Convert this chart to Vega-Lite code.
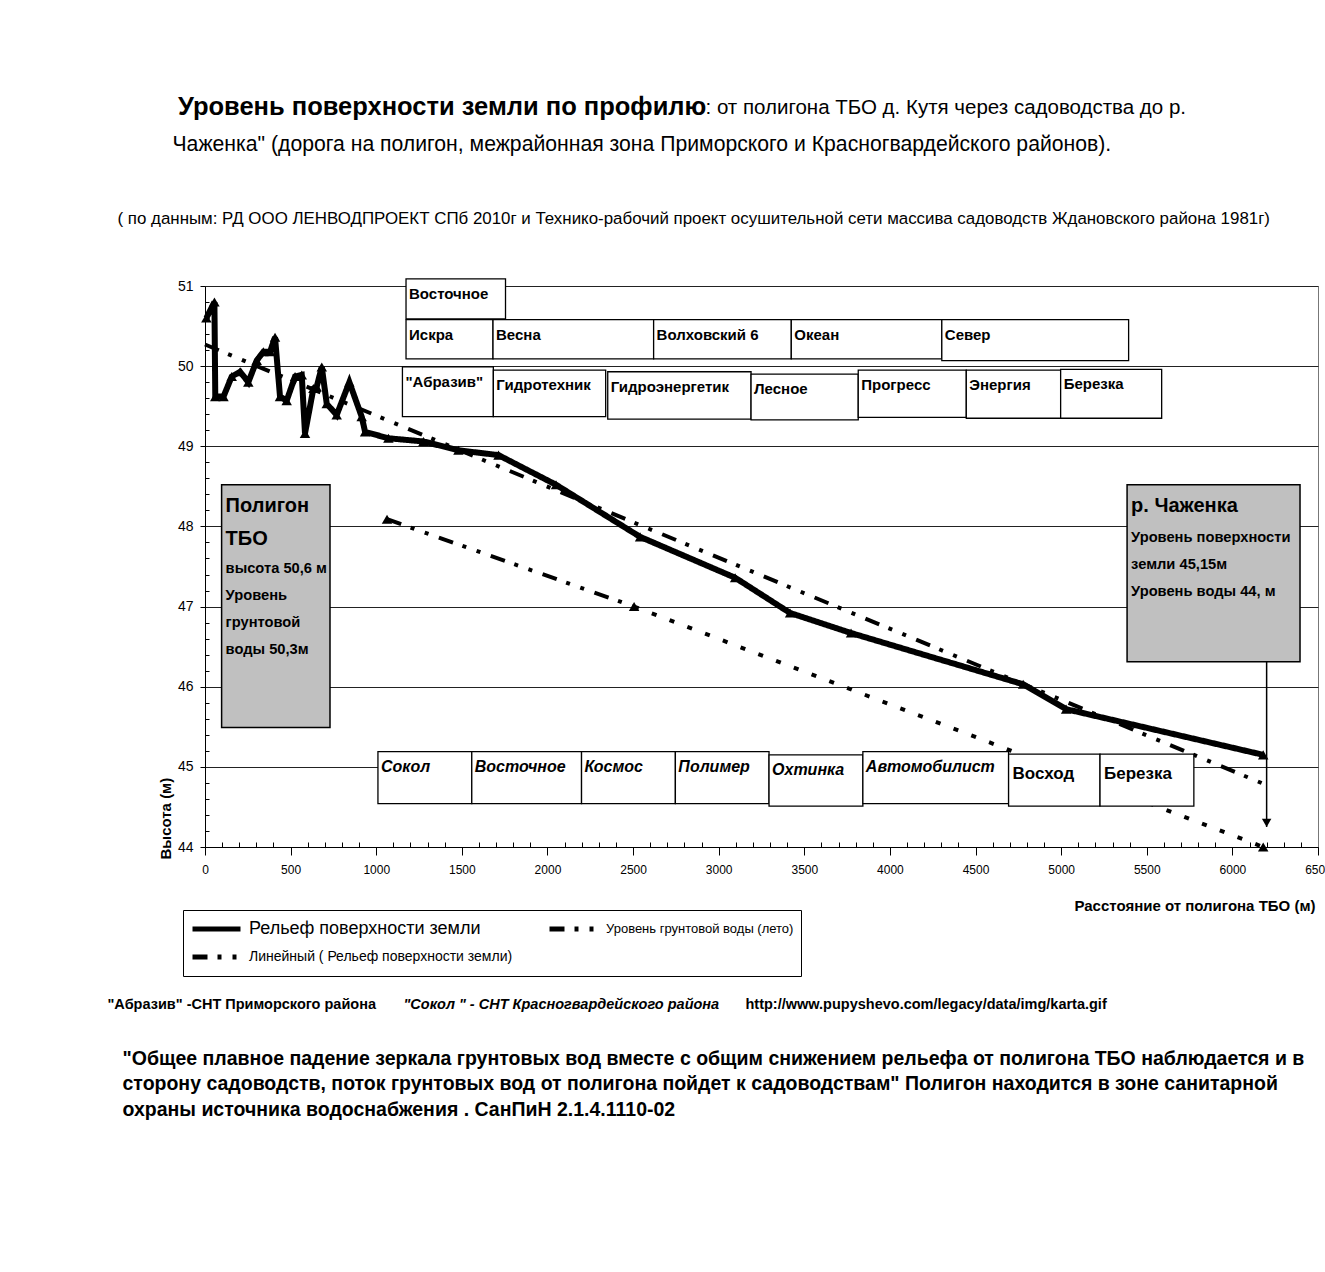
{
  "$schema": "https://vega.github.io/schema/vega-lite/v6.json",
  "width": 1113,
  "height": 561,
  "autosize": {"type": "none"},
  "padding": {"left": 205, "top": 286, "right": 7, "bottom": 425},
  "background": "white",
  "title": {
    "text": "Уровень  поверхности земли  по профилю",
    "anchor": "start",
    "frame": "group",
    "dx": -27,
    "dy": 23,
    "offset": 0,
    "fontSize": 25.5,
    "fontWeight": "bold",
    "color": "black"
  },
  "datasets": {
    "relief": [
      {"x": 8, "y": 50.6}, {"x": 55, "y": 50.8}, {"x": 60, "y": 49.62}, {"x": 108, "y": 49.62},
      {"x": 156, "y": 49.87}, {"x": 205, "y": 49.93}, {"x": 253, "y": 49.8}, {"x": 302, "y": 50.07},
      {"x": 341, "y": 50.18}, {"x": 380, "y": 50.18}, {"x": 409, "y": 50.36}, {"x": 438, "y": 49.62},
      {"x": 477, "y": 49.57}, {"x": 526, "y": 49.87}, {"x": 565, "y": 49.89}, {"x": 584, "y": 49.16},
      {"x": 633, "y": 49.72}, {"x": 652, "y": 49.74}, {"x": 682, "y": 49.99}, {"x": 711, "y": 49.53},
      {"x": 769, "y": 49.39}, {"x": 843, "y": 49.8}, {"x": 915, "y": 49.37}, {"x": 935, "y": 49.18},
      {"x": 1071, "y": 49.1}, {"x": 1276, "y": 49.06}, {"x": 1480, "y": 48.95}, {"x": 1714, "y": 48.89},
      {"x": 2050, "y": 48.52}, {"x": 2541, "y": 47.87}, {"x": 3096, "y": 47.36}, {"x": 3417, "y": 46.92},
      {"x": 3773, "y": 46.67}, {"x": 4778, "y": 46.03}, {"x": 5029, "y": 45.72}, {"x": 6180, "y": 45.15}
    ],
    "trend": [{"x": 0, "y": 50.27}, {"x": 6180, "y": 44.79}],
    "gw": [{"x": 1063, "y": 48.09}, {"x": 2506, "y": 47.0}, {"x": 6180, "y": 44.0}],
    "boxes": [
      {"n": "Восточное", "x1": 1174, "x2": 1755, "y1": 50.59, "y2": 51.09, "g": "top"},
      {"n": "Искра", "x1": 1174, "x2": 1682, "y1": 50.09, "y2": 50.58, "g": "top"},
      {"n": "Весна", "x1": 1682, "x2": 2620, "y1": 50.09, "y2": 50.58, "g": "top"},
      {"n": "Волховский 6", "x1": 2620, "x2": 3424, "y1": 50.09, "y2": 50.58, "g": "top"},
      {"n": "Океан", "x1": 3424, "x2": 4303, "y1": 50.09, "y2": 50.58, "g": "top"},
      {"n": "Север", "x1": 4303, "x2": 5394, "y1": 50.07, "y2": 50.58, "g": "top"},
      {"n": "\"Абразив\"", "x1": 1153, "x2": 1684, "y1": 49.37, "y2": 49.99, "g": "top"},
      {"n": "Гидротехник", "x1": 1684, "x2": 2340, "y1": 49.37, "y2": 49.95, "g": "top"},
      {"n": "Гидроэнергетик", "x1": 2352, "x2": 3189, "y1": 49.34, "y2": 49.93, "g": "top"},
      {"n": "Лесное", "x1": 3189, "x2": 3815, "y1": 49.33, "y2": 49.9, "g": "top"},
      {"n": "Прогресс", "x1": 3815, "x2": 4446, "y1": 49.36, "y2": 49.95, "g": "top"},
      {"n": "Энергия", "x1": 4446, "x2": 4997, "y1": 49.35, "y2": 49.95, "g": "top"},
      {"n": "Березка", "x1": 4997, "x2": 5587, "y1": 49.35, "y2": 49.96, "g": "top"},
      {"n": "Сокол", "x1": 1010, "x2": 1558, "y1": 44.54, "y2": 45.19, "g": "bi"},
      {"n": "Восточное", "x1": 1558, "x2": 2199, "y1": 44.54, "y2": 45.19, "g": "bi"},
      {"n": "Космос", "x1": 2199, "x2": 2747, "y1": 44.54, "y2": 45.19, "g": "bi"},
      {"n": "Полимер", "x1": 2747, "x2": 3294, "y1": 44.54, "y2": 45.19, "g": "bi"},
      {"n": "Охтинка", "x1": 3294, "x2": 3842, "y1": 44.51, "y2": 45.15, "g": "bi"},
      {"n": "Автомобилист", "x1": 3842, "x2": 4693, "y1": 44.54, "y2": 45.19, "g": "bi"},
      {"n": "Восход", "x1": 4693, "x2": 5227, "y1": 44.51, "y2": 45.16, "g": "bb"},
      {"n": "Березка", "x1": 5227, "x2": 5775, "y1": 44.51, "y2": 45.16, "g": "bb"}
    ],
    "info": [
      {"n": "Полигон ТБО", "x1": 97, "x2": 730, "y1": 45.49, "y2": 48.52},
      {"n": "р. Чаженка", "x1": 5385, "x2": 6395, "y1": 46.31, "y2": 48.52}
    ],
    "infoText": [
      {"t": ["Полигон", "ТБО"], "x": 97, "y": 48.18, "k": "head"},
      {"t": ["высота 50,6 м", "Уровень", "грунтовой", "воды 50,3м"], "x": 97, "y": 47.415, "k": "body"},
      {"t": ["р. Чаженка"], "x": 5385, "y": 48.18, "k": "head"},
      {"t": ["Уровень поверхности", "земли 45,15м", "Уровень  воды 44, м"], "x": 5385, "y": 47.81, "k": "body"}
    ],
    "arrow": [{"x": 6200, "y": 46.31, "y2": 44.25, "yh": 44.3}]
  },
  "resolve": {"axis": {"x": "independent"}},
  "layer": [
    {
      "data": {"name": "relief"},
      "mark": {"type": "line", "color": "black", "strokeWidth": 6},
      "encoding": {
        "x": {
          "field": "x", "type": "quantitative",
          "scale": {"domain": [0, 6500], "nice": false, "zero": false},
          "axis": {
            "orient": "bottom",
            "values": [0,100,200,300,400,500,600,700,800,900,1000,1100,1200,1300,1400,1500,1600,1700,1800,1900,2000,2100,2200,2300,2400,2500,2600,2700,2800,2900,3000,3100,3200,3300,3400,3500,3600,3700,3800,3900,4000,4100,4200,4300,4400,4500,4600,4700,4800,4900,5000,5100,5200,5300,5400,5500,5600,5700,5800,5900,6000,6100,6200,6300,6400,6500],
            "tickCount": 200,
            "format": "d",
            "labelExpr": "datum.value % 500 === 0 ? datum.label : ''",
            "labelOverlap": false,
            "labelFlush": false,
            "labelFontSize": 12,
            "labelColor": "black",
            "labelPadding": 9,
            "tickSize": {"condition": {"test": "datum.value % 500 === 0", "value": 8}, "value": -5},
            "tickColor": "black",
            "domainColor": "black",
            "grid": false,
            "title": "Расстояние от полигона ТБО (м)",
            "titleX": 1110,
            "titleY": 63,
            "titleAlign": "right",
            "titleBaseline": "alphabetic",
            "titleFontSize": 15,
            "titleFontWeight": "bold",
            "titleColor": "black"
          }
        },
        "y": {
          "field": "y", "type": "quantitative",
          "scale": {"domain": [44, 51], "nice": false, "zero": false},
          "axis": {
            "values": [44,44.2,44.4,44.6,44.8,45,45.2,45.4,45.6,45.8,46,46.2,46.4,46.6,46.8,47,47.2,47.4,47.6,47.8,48,48.2,48.4,48.6,48.8,49,49.2,49.4,49.6,49.8,50,50.2,50.4,50.6,50.8,51],
            "tickCount": 200,
            "labelExpr": "abs(datum.value - round(datum.value)) < 0.001 ? format(datum.value, 'd') : ''",
            "labelOverlap": false,
            "labelFlush": false,
            "labelFontSize": 14,
            "labelColor": "black",
            "labelPadding": 7,
            "tickSize": {"condition": {"test": "abs(datum.value - round(datum.value)) < 0.001", "value": 5}, "value": -4},
            "tickColor": "black",
            "domainColor": "black",
            "grid": true,
            "gridColor": "#222",
            "gridOpacity": {"condition": {"test": "abs(datum.value - round(datum.value)) < 0.001", "value": 1}, "value": 0},
            "title": "Высота (м)",
            "titleX": -40,
            "titleY": 573,
            "titleAngle": 270,
            "titleAlign": "left",
            "titleBaseline": "middle",
            "titleFontSize": 15,
            "titleFontWeight": "bold",
            "titleColor": "black"
          }
        },
        "strokeDash": {
          "datum": "Рельеф поверхности земли", "type": "nominal",
          "scale": {
            "domain": ["Рельеф поверхности земли", "Линейный ( Рельеф поверхности земли)", "Уровень грунтовой воды (лето)"],
            "range": [[1, 0], [15, 10, 4, 11, 4, 11], [15, 10, 4, 11, 4, 11]]
          },
          "legend": {
            "title": null,
            "orient": "none",
            "legendX": -22,
            "legendY": 624,
            "columns": 2,
            "gridAlign": "all",
            "columnPadding": 34,
            "rowPadding": 4,
            "symbolType": "stroke",
            "symbolSize": 2304,
            "symbolStrokeColor": "black",
            "symbolStrokeWidth": 5,
            "labelFontSize": {"expr": "datum.index === 0 ? 18 : (datum.index === 2 ? 13 : 14)"},
            "labelLimit": 500,
            "labelColor": "black",
            "labelOffset": 6,
            "strokeColor": "black",
            "fillColor": "white",
            "padding": 7,
            "clipHeight": 24
          }
        }
      }
    },
    {
      "data": {"name": "relief"},
      "mark": {"type": "point", "shape": "triangle-up", "filled": true, "color": "black", "size": 110, "opacity": 1},
      "encoding": {
        "x": {"field": "x", "type": "quantitative", "axis": null},
        "y": {"field": "y", "type": "quantitative"}
      }
    },
    {
      "data": {"name": "trend"},
      "mark": {"type": "line", "color": "black", "strokeWidth": 4},
      "encoding": {
        "x": {
          "field": "x", "type": "quantitative",
          "axis": {"orient": "top", "domain": false, "ticks": false, "labels": false, "grid": false,
            "title": ": от полигона ТБО  д. Кутя через садоводства  до р.",
            "titleX": 500, "titleY": -173, "titleAlign": "left", "titleBaseline": "alphabetic",
            "titleFontSize": 20.5, "titleFontWeight": "normal", "titleColor": "black"}
        },
        "y": {"field": "y", "type": "quantitative"},
        "strokeDash": {"datum": "Линейный ( Рельеф поверхности земли)", "type": "nominal"}
      }
    },
    {
      "data": {"name": "gw"},
      "transform": [{"filter": "datum.x <= 2506"}],
      "mark": {"type": "line", "color": "black", "strokeWidth": 4},
      "encoding": {
        "x": {
          "field": "x", "type": "quantitative",
          "axis": {"orient": "top", "domain": false, "ticks": false, "labels": false, "grid": false,
            "title": "Чаженка\"  (дорога  на полигон,  межрайонная  зона   Приморского и Красногвардейского районов).",
            "titleX": -33, "titleY": -136, "titleAlign": "left", "titleBaseline": "alphabetic",
            "titleFontSize": 21.2, "titleFontWeight": "normal", "titleColor": "black"}
        },
        "y": {"field": "y", "type": "quantitative"},
        "strokeDash": {"datum": "Уровень грунтовой воды (лето)", "type": "nominal"}
      }
    },
    {
      "data": {"name": "gw"},
      "transform": [{"filter": "datum.x >= 2506"}],
      "mark": {"type": "line", "color": "black", "strokeWidth": 4, "strokeDash": [5, 14]},
      "encoding": {
        "x": {
          "field": "x", "type": "quantitative",
          "axis": {"orient": "top", "domain": false, "ticks": false, "labels": false, "grid": false,
            "title": "( по данным: РД   ООО ЛЕНВОДПРОЕКТ СПб 2010г и Технико-рабочий проект осушительной сети массива садоводств Ждановского района 1981г)",
            "titleX": -88, "titleY": -63, "titleAlign": "left", "titleBaseline": "alphabetic",
            "titleFontSize": 16.9, "titleFontWeight": "normal", "titleColor": "black"}
        },
        "y": {"field": "y", "type": "quantitative"}
      }
    },
    {
      "data": {"name": "gw"},
      "mark": {"type": "point", "shape": "triangle-up", "filled": true, "color": "black", "size": 110, "opacity": 1},
      "encoding": {
        "x": {"field": "x", "type": "quantitative", "axis": null},
        "y": {"field": "y", "type": "quantitative"}
      }
    },
    {
      "data": {"name": "boxes"},
      "mark": {"type": "rect", "fill": "white", "stroke": "black", "strokeWidth": 1.3},
      "encoding": {
        "x": {
          "field": "x1", "type": "quantitative",
          "axis": {"orient": "bottom", "domain": false, "ticks": false, "labels": false, "grid": false,
            "title": "\"Абразив\" -СНТ  Приморского района",
            "titleX": -98, "titleY": 161, "titleAlign": "left", "titleBaseline": "alphabetic",
            "titleFontSize": 14.5, "titleFontWeight": "bold", "titleColor": "black"}
        },
        "x2": {"field": "x2"},
        "y": {"field": "y1", "type": "quantitative"},
        "y2": {"field": "y2"}
      }
    },
    {
      "data": {"name": "boxes"},
      "transform": [{"filter": "datum.g === 'top'"}],
      "mark": {"type": "text", "align": "left", "baseline": "alphabetic", "dx": 3, "dy": 20, "fontSize": 15, "fontWeight": "bold", "color": "black"},
      "encoding": {
        "x": {
          "field": "x1", "type": "quantitative",
          "axis": {"orient": "bottom", "domain": false, "ticks": false, "labels": false, "grid": false,
            "title": "\"Сокол \" - СНТ Красногвардейского района",
            "titleX": 198, "titleY": 161, "titleAlign": "left", "titleBaseline": "alphabetic",
            "titleFontSize": 14.5, "titleFontWeight": "bold", "titleFontStyle": "italic", "titleColor": "black"}
        },
        "y": {"field": "y2", "type": "quantitative"},
        "text": {"field": "n", "type": "nominal"}
      }
    },
    {
      "data": {"name": "boxes"},
      "transform": [{"filter": "datum.g === 'bi'"}],
      "mark": {"type": "text", "align": "left", "baseline": "alphabetic", "dx": 3, "dy": 20, "fontSize": 16, "fontWeight": "bold", "fontStyle": "italic", "color": "black"},
      "encoding": {
        "x": {
          "field": "x1", "type": "quantitative",
          "axis": {"orient": "bottom", "domain": false, "ticks": false, "labels": false, "grid": false,
            "title": "http://www.pupyshevo.com/legacy/data/img/karta.gif",
            "titleX": 540, "titleY": 161, "titleAlign": "left", "titleBaseline": "alphabetic",
            "titleFontSize": 14.5, "titleFontWeight": "bold", "titleColor": "black"}
        },
        "y": {"field": "y2", "type": "quantitative"},
        "text": {"field": "n", "type": "nominal"}
      }
    },
    {
      "data": {"name": "boxes"},
      "transform": [{"filter": "datum.g === 'bb'"}],
      "mark": {"type": "text", "align": "left", "baseline": "alphabetic", "dx": 4, "dy": 25, "fontSize": 17, "fontWeight": "bold", "color": "black"},
      "encoding": {
        "x": {
          "field": "x1", "type": "quantitative",
          "axis": {"orient": "bottom", "domain": false, "ticks": false, "labels": false, "grid": false,
            "title": ["\"Общее плавное падение зеркала грунтовых вод вместе с общим снижением рельефа от полигона ТБО  наблюдается и в", "сторону садоводств, поток грунтовых вод от полигона пойдет к садоводствам\" Полигон находится в зоне санитарной", "охраны  источника водоснабжения . СанПиН 2.1.4.1110-02"],
            "titleX": -83, "titleY": 217, "titleAlign": "left", "titleBaseline": "alphabetic", "titleLineHeight": 25.5,
            "titleFontSize": 19.5, "titleFontWeight": "bold", "titleColor": "black"}
        },
        "y": {"field": "y2", "type": "quantitative"},
        "text": {"field": "n", "type": "nominal"}
      }
    },
    {
      "data": {"name": "info"},
      "mark": {"type": "rect", "fill": "#c0c0c0", "stroke": "black", "strokeWidth": 1.5},
      "encoding": {
        "x": {"field": "x1", "type": "quantitative", "axis": null},
        "x2": {"field": "x2"},
        "y": {"field": "y1", "type": "quantitative"},
        "y2": {"field": "y2"}
      }
    },
    {
      "data": {"name": "infoText"},
      "transform": [{"filter": "datum.k === 'head'"}],
      "mark": {"type": "text", "align": "left", "baseline": "alphabetic", "dx": 4, "fontSize": 20, "fontWeight": "bold", "lineHeight": 33, "color": "black"},
      "encoding": {
        "x": {"field": "x", "type": "quantitative", "axis": null},
        "y": {"field": "y", "type": "quantitative"},
        "text": {"field": "t"}
      }
    },
    {
      "data": {"name": "infoText"},
      "transform": [{"filter": "datum.k === 'body'"}],
      "mark": {"type": "text", "align": "left", "baseline": "alphabetic", "dx": 4, "fontSize": 14.7, "fontWeight": "bold", "lineHeight": 27, "color": "black"},
      "encoding": {
        "x": {"field": "x", "type": "quantitative", "axis": null},
        "y": {"field": "y", "type": "quantitative"},
        "text": {"field": "t"}
      }
    },
    {
      "data": {"name": "arrow"},
      "mark": {"type": "rule", "color": "black", "strokeWidth": 1.5},
      "encoding": {
        "x": {"field": "x", "type": "quantitative", "axis": null},
        "y": {"field": "y", "type": "quantitative"},
        "y2": {"field": "y2"}
      }
    },
    {
      "data": {"name": "arrow"},
      "mark": {"type": "point", "shape": "triangle-down", "filled": true, "color": "black", "size": 90, "opacity": 1},
      "encoding": {
        "x": {"field": "x", "type": "quantitative", "axis": null},
        "y": {"field": "yh", "type": "quantitative"}
      }
    }
  ],
  "config": {
    "font": "Liberation Sans",
    "view": {"stroke": "#777", "strokeWidth": 1}
  }
}
